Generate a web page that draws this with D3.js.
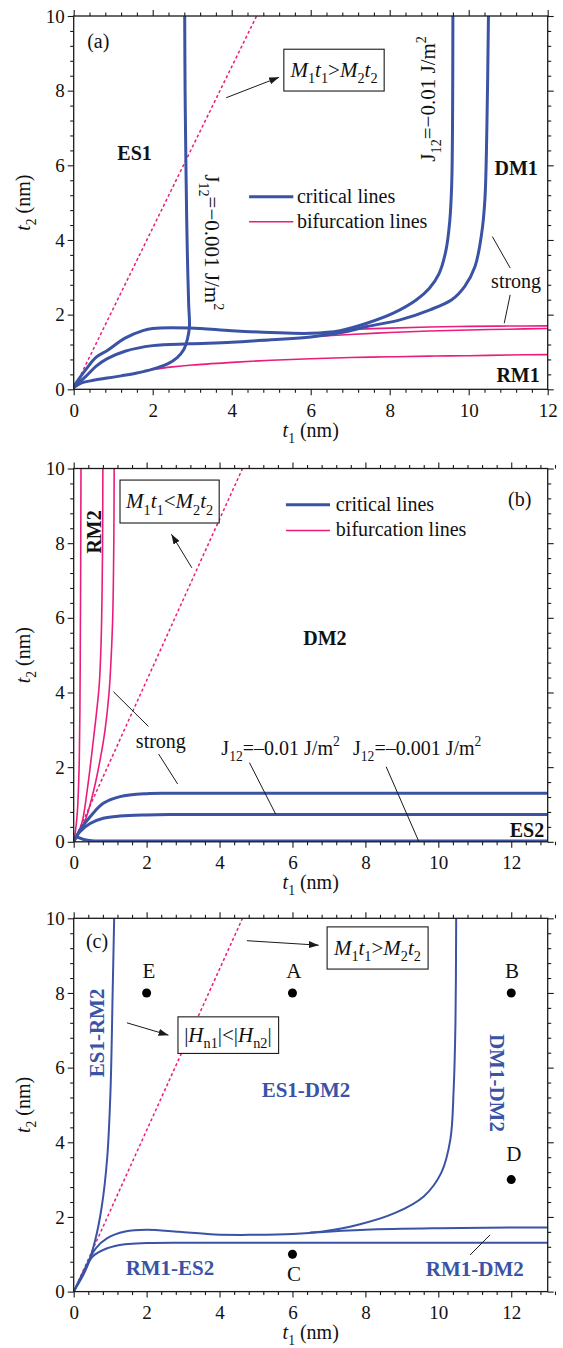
<!DOCTYPE html>
<html>
<head>
<meta charset="utf-8">
<script src="https://cdn.jsdelivr.net/npm/d3@7"></script>
<style>
  body { margin: 0; background: #fff; }
  svg { display: block; font-family: "Liberation Serif", "Times New Roman", serif; }
  text { font-family: "Liberation Serif", "Times New Roman", serif; fill: #111; }
</style>
</head>
<body>
<script>
// ---------------- data (t1, t2 in nm) ----------------
const xTicks = [0, 2, 4, 6, 8, 10, 12];
const yTicks = [0, 2, 4, 6, 8, 10];
const minorStep = 0.4;
const xMaxA = 12, xMaxBC = 13, yMax = 10;

// M1 t1 = M2 t2 boundary
const momentLine = [[0, 0], [4.63, 10]];

// (a) critical lines
const aCritLow = [[0,0.05],[0.2,0.17],[0.5,0.24],[0.85,0.3],[1.2,0.36],[1.57,0.43],[2,0.54],[2.39,0.69],[2.62,0.85],[2.78,1.05],[2.88,1.35],[2.93,1.68],[2.91,2.3],[2.88,3.5],[2.86,4.6],[2.84,6.1],[2.82,8],[2.81,10]];
const aCritMid = [[0,0.07],[0.3,0.34],[0.57,0.62],[0.85,0.82],[1.3,1.02],[2,1.17],[2.94,1.22],[4,1.26],[5,1.33],[6,1.40],[6.92,1.55],[7.42,1.68],[8.26,1.86],[9.02,2.13],[9.57,2.4],[9.9,2.76],[10.16,3.29],[10.33,4.19],[10.41,5.08],[10.46,7],[10.5,10]];
const aCritUp = [[0,0.08],[0.3,0.52],[0.57,0.86],[0.85,1.04],[1.3,1.37],[1.75,1.57],[2,1.63],[2.94,1.64],[4,1.57],[5,1.52],[6,1.5],[6.74,1.57],[7.42,1.77],[8.09,2.04],[8.68,2.4],[9.0,2.7],[9.25,3.1],[9.42,3.7],[9.52,4.5],[9.57,5.5],[9.59,7],[9.6,10]];
// (a) bifurcation lines
const aBifLow = [[1.8,0.5],[2.5,0.6],[3,0.65],[4,0.72],[5,0.78],[6,0.82],[7,0.85],[8,0.87],[9,0.89],[10,0.9],[11,0.92],[12,0.93]];
const aBifMid = [[5.9,1.4],[7,1.47],[8,1.52],[9,1.56],[10,1.59],[11,1.61],[12,1.63]];
const aBifUp = [[7,1.6],[8,1.64],[9,1.67],[10,1.685],[11,1.695],[12,1.7]];

// (b) critical lines
const bCritUp = [[0,0],[0.17,0.31],[0.45,0.67],[0.81,1.03],[1.27,1.21],[2,1.29],[2.64,1.3],[4,1.3],[8,1.3],[13,1.3]];
const bCritMid = [[0,0],[0.17,0.27],[0.45,0.49],[0.81,0.63],[1.27,0.69],[2,0.72],[2.64,0.73],[6,0.73],[13,0.73]];
const bCritLow = [[0,0.05],[0.08,0.12],[0.25,0.07],[0.5,0.03],[1,0.02],[6,0.02],[13,0.02]];
// (b) bifurcation lines
const bBif1 = [[0,0],[0.05,0.3],[0.1,0.8],[0.13,1.4],[0.155,2.3],[0.17,3.5],[0.18,5],[0.19,7],[0.2,10]];
const bBif2 = [[0,0],[0.22,0.49],[0.37,1.38],[0.54,2.73],[0.63,3.5],[0.7,4.2],[0.75,5.3],[0.78,6.8],[0.795,8.5],[0.8,10]];
const bBif3 = [[0,0],[0.2,0.33],[0.35,0.67],[0.55,1.38],[0.74,2.28],[0.86,3],[0.97,4],[1.03,5],[1.07,6],[1.1,8],[1.11,10]];

// (c) phase boundaries
const cCritLeft = [[0,0],[0.33,0.58],[0.57,1.3],[0.77,2.28],[0.92,3.6],[1.01,5.4],[1.07,8.1],[1.11,10]];
const cCritBig = [[0,0],[0.3,0.6],[0.6,1.15],[0.92,1.43],[1.41,1.61],[2,1.66],[2.89,1.6],[3.87,1.53],[4.86,1.52],[6,1.54],[6.83,1.61],[7.8,1.79],[8.8,2.1],[9.6,2.55],[10.08,3.18],[10.33,4.07],[10.42,5.4],[10.47,7.2],[10.49,10]];
const cCritFlatUp = [[6.5,1.58],[8,1.66],[10,1.7],[13,1.72]];
const cCritFlatLow = [[0,0],[0.3,0.55],[0.52,0.94],[0.92,1.16],[1.41,1.27],[2,1.3],[3,1.31],[8,1.31],[13,1.31]];
// (c) sample states
const cStates = [
  { name: "E", t1: 2,  t2: 8 },
  { name: "A", t1: 6,  t2: 8 },
  { name: "B", t1: 12, t2: 8 },
  { name: "D", t1: 12, t2: 3 },
  { name: "C", t1: 6,  t2: 1 }
];

// ---------------- styling & layout ----------------
const BLUE = "#3a53a4", PINK = "#ea1c7c", INK = "#1a1a1a";
const FONT = "Liberation Serif, Times New Roman, serif";
const L = 73.7, W = 474, H = 373.3;
const tops = [16, 468.5, 918.3];

const svg = d3.select("body").append("svg").attr("width", 563).attr("height", 1348);
const defs = svg.append("defs");
defs.append("marker").attr("id", "arrow")
  .attr("viewBox", "0 0 10 7").attr("refX", 10).attr("refY", 3.5)
  .attr("markerWidth", 10).attr("markerHeight", 7)
  .attr("markerUnits", "userSpaceOnUse").attr("orient", "auto")
  .append("path").attr("d", "M0,0 L10,3.5 L0,7 Z").attr("fill", INK);

// text with italic pieces and sub/superscripts
function rich(textSel, parts, size) {
  let off = 0;
  textSel.attr("font-family", FONT);
  parts.forEach(p => {
    const target = p.sub ? size * 0.3 : p.sup ? -size * 0.42 : 0;
    const ts = textSel.append("tspan").text(p.t).attr("dy", target - off);
    off = target;
    if (p.sub || p.sup) ts.attr("font-size", size * 0.68);
    if (p.i) ts.attr("font-style", "italic");
  });
}
const plain = s => [{ t: s }];
const jLabel = v => [{ t: "J" }, { t: "12", sub: true }, { t: "=" + v + " J/m" }, { t: "2", sup: true }];
const mLabel = rel => [{ t: "M", i: true }, { t: "1", sub: true }, { t: "t", i: true }, { t: "1", sub: true },
  { t: rel }, { t: "M", i: true }, { t: "2", sub: true }, { t: "t", i: true }, { t: "2", sub: true }];
const hLabel = [{ t: "|" }, { t: "H", i: true }, { t: "n1", sub: true }, { t: "|<|" }, { t: "H", i: true }, { t: "n2", sub: true }, { t: "|" }];

function drawPanel(cfg, idx) {
  const g = svg.append("g").attr("transform", `translate(${L},${tops[idx]})`);
  const x = d3.scaleLinear().domain([0, cfg.xMax]).range([0, W]);
  const y = d3.scaleLinear().domain([0, yMax]).range([H, 0]);

  const clipId = "clip" + idx;
  defs.append("clipPath").attr("id", clipId).append("rect").attr("width", W).attr("height", H);
  const plot = g.append("g").attr("clip-path", `url(#${clipId})`);

  const line = d3.line().x(d => x(d[0])).y(d => y(d[1])).curve(d3.curveCatmullRom.alpha(0.5));
  cfg.series.forEach(s => {
    plot.append("path").datum(s.data).attr("d", line)
      .attr("fill", "none").attr("stroke", s.color).attr("stroke-width", s.width)
      .attr("stroke-dasharray", s.dash || null)
      .attr("stroke-linejoin", "round").attr("stroke-linecap", s.dash ? "butt" : "round");
  });

  // axes: major + minor ticks on all four sides, pointing outward
  const minorOf = max => d3.range(0, Math.round(max / minorStep) + 1).filter(i => i % 5 !== 0).map(i => i * minorStep);
  const xMinor = minorOf(cfg.xMax), yMinor = minorOf(yMax);
  const styleAxis = sel => {
    sel.attr("font-size", 19).attr("font-family", FONT).attr("color", INK);
    sel.select(".domain").remove();
    sel.selectAll(".tick line").attr("stroke-width", 1.1);
  };
  const bottom = g.append("g").attr("transform", `translate(0,${H})`);
  bottom.append("g").call(d3.axisBottom(x).tickValues(xTicks).tickSize(6).tickPadding(8).tickFormat(d3.format("d"))).call(styleAxis);
  bottom.append("g").call(d3.axisBottom(x).tickValues(xMinor).tickSize(3.5).tickFormat("")).call(styleAxis);
  g.append("g").call(d3.axisTop(x).tickValues(xTicks).tickSize(6).tickFormat("")).call(styleAxis);
  g.append("g").call(d3.axisTop(x).tickValues(xMinor).tickSize(3.5).tickFormat("")).call(styleAxis);
  g.append("g").call(d3.axisLeft(y).tickValues(yTicks).tickSize(6).tickPadding(3).tickFormat(d3.format("d"))).call(styleAxis);
  g.append("g").call(d3.axisLeft(y).tickValues(yMinor).tickSize(3.5).tickFormat("")).call(styleAxis);
  const right = g.append("g").attr("transform", `translate(${W},0)`);
  right.append("g").call(d3.axisRight(y).tickValues(yTicks).tickSize(6).tickFormat("")).call(styleAxis);
  right.append("g").call(d3.axisRight(y).tickValues(yMinor).tickSize(3.5).tickFormat("")).call(styleAxis);
  g.append("rect").attr("width", W).attr("height", H).attr("fill", "none").attr("stroke", INK).attr("stroke-width", 1.3);

  // axis titles
  rich(g.append("text").attr("x", W / 2).attr("y", H + 47.5).attr("text-anchor", "middle").attr("font-size", 20),
    [{ t: "t", i: true }, { t: "1", sub: true }, { t: " (nm)" }], 20);
  rich(g.append("text").attr("transform", `translate(-44,${H / 2}) rotate(-90)`).attr("text-anchor", "middle").attr("font-size", 20),
    [{ t: "t", i: true }, { t: "2", sub: true }, { t: " (nm)" }], 20);

  // annotations
  const ann = g.append("g");
  (cfg.boxes || []).forEach(b => {
    ann.append("rect").attr("x", x(b.x0)).attr("y", y(b.y0))
      .attr("width", x(b.x1) - x(b.x0)).attr("height", y(b.y1) - y(b.y0))
      .attr("fill", "#fff").attr("stroke", INK).attr("stroke-width", 1.1);
  });
  (cfg.lines || []).forEach(l => {
    ann.append("line").attr("x1", x(l.from[0])).attr("y1", y(l.from[1]))
      .attr("x2", x(l.to[0])).attr("y2", y(l.to[1]))
      .attr("stroke", l.color || INK).attr("stroke-width", l.width || 1)
      .attr("marker-end", l.arrow ? "url(#arrow)" : null);
  });
  (cfg.texts || []).forEach(t => {
    const el = ann.append("text")
      .attr("transform", `translate(${x(t.x)},${y(t.y)})` + (t.rotate ? ` rotate(${t.rotate})` : ""))
      .attr("text-anchor", t.anchor || "middle").attr("font-size", t.size)
      .attr("font-weight", t.bold ? "bold" : null);
    if (t.color) el.style("fill", t.color);
    rich(el, t.parts, t.size);
  });
  (cfg.dots || []).forEach(d => {
    ann.append("circle").attr("cx", x(d.t1)).attr("cy", y(d.t2)).attr("r", 4.5).attr("fill", "#000");
  });
}

// ---------------- panel (a) ----------------
drawPanel({
  xMax: xMaxA,
  series: [
    { data: momentLine, color: PINK, width: 1.5, dash: "3,2.5" },
    { data: aBifLow, color: PINK, width: 1.6 },
    { data: aBifMid, color: PINK, width: 1.6 },
    { data: aBifUp, color: PINK, width: 1.6 },
    { data: aCritLow, color: BLUE, width: 3 },
    { data: aCritMid, color: BLUE, width: 3 },
    { data: aCritUp, color: BLUE, width: 3 }
  ],
  boxes: [{ x0: 5.32, y0: 9.11, x1: 7.86, y1: 7.99 }],
  lines: [
    { from: [3.86, 7.81], to: [5.2, 8.36], arrow: true },
    { from: [10.6, 4.09], to: [11.05, 3.25] },
    { from: [11.05, 2.53], to: [10.9, 1.77] },
    { from: [4.44, 5.16], to: [5.56, 5.16], color: BLUE, width: 3 },
    { from: [4.44, 4.49], to: [5.56, 4.49], color: PINK, width: 1.5 }
  ],
  texts: [
    { x: 0.34, y: 9.14, anchor: "start", size: 20, parts: plain("(a)") },
    { x: 1.54, y: 6.14, size: 20, bold: true, parts: plain("ES1") },
    { x: 11.2, y: 5.74, size: 20, bold: true, parts: plain("DM1") },
    { x: 11.25, y: 0.2, size: 20, bold: true, parts: plain("RM1") },
    { x: 11.2, y: 2.72, size: 20, parts: plain("strong") },
    { x: 6.59, y: 8.37, size: 21, parts: mLabel(">") },
    { x: 9.15, y: 7.78, size: 21, rotate: -90, parts: jLabel("\u22120.01") },
    { x: 3.32, y: 3.94, size: 21, rotate: 90, parts: jLabel("\u22120.001") },
    { x: 5.65, y: 4.99, anchor: "start", size: 20, parts: plain("critical lines") },
    { x: 5.65, y: 4.32, anchor: "start", size: 20, parts: plain("bifurcation lines") }
  ]
}, 0);

// ---------------- panel (b) ----------------
drawPanel({
  xMax: xMaxBC,
  series: [
    { data: momentLine, color: PINK, width: 1.5, dash: "3,2.5" },
    { data: bBif1, color: PINK, width: 1.6 },
    { data: bBif2, color: PINK, width: 1.6 },
    { data: bBif3, color: PINK, width: 1.6 },
    { data: bCritLow, color: BLUE, width: 3 },
    { data: bCritMid, color: BLUE, width: 3 },
    { data: bCritUp, color: BLUE, width: 3 }
  ],
  boxes: [{ x0: 1.27, y0: 9.69, x1: 3.99, y1: 8.54 }],
  lines: [
    { from: [3.24, 7.34], to: [2.68, 8.24], arrow: true },
    { from: [1.09, 4.02], to: [2.05, 3.09] },
    { from: [2.33, 2.35], to: [2.85, 1.55] },
    { from: [4.82, 2.12], to: [5.54, 0.74] },
    { from: [8.57, 2.01], to: [9.46, 0.02] },
    { from: [5.82, 9.03], to: [7.03, 9.03], color: BLUE, width: 3 },
    { from: [5.82, 8.34], to: [7.03, 8.34], color: PINK, width: 1.5 }
  ],
  texts: [
    { x: 12.23, y: 9.0, size: 20, parts: plain("(b)") },
    { x: 2.63, y: 8.93, size: 21, parts: mLabel("<") },
    { x: 0.74, y: 8.3, size: 20, bold: true, rotate: -90, parts: plain("RM2") },
    { x: 6.89, y: 5.28, size: 20, bold: true, parts: plain("DM2") },
    { x: 12.43, y: 0.13, size: 20, bold: true, parts: plain("ES2") },
    { x: 2.39, y: 2.51, size: 20, parts: plain("strong") },
    { x: 4.05, y: 2.33, anchor: "start", size: 20, parts: jLabel("\u20130.01") },
    { x: 7.66, y: 2.33, anchor: "start", size: 20, parts: jLabel("\u20130.001") },
    { x: 7.19, y: 8.87, anchor: "start", size: 20, parts: plain("critical lines") },
    { x: 7.19, y: 8.18, anchor: "start", size: 20, parts: plain("bifurcation lines") }
  ]
}, 1);

// ---------------- panel (c) ----------------
drawPanel({
  xMax: xMaxBC,
  series: [
    { data: momentLine, color: PINK, width: 1.5, dash: "3,2.5" },
    { data: cCritLeft, color: BLUE, width: 2 },
    { data: cCritBig, color: BLUE, width: 2 },
    { data: cCritFlatUp, color: BLUE, width: 2 },
    { data: cCritFlatLow, color: BLUE, width: 2 }
  ],
  boxes: [
    { x0: 6.95, y0: 9.77, x1: 9.72, y1: 8.64 },
    { x0: 2.86, y0: 7.36, x1: 5.62, y1: 6.38 }
  ],
  lines: [
    { from: [4.75, 9.4], to: [6.72, 9.28], arrow: true },
    { from: [1.46, 7.2], to: [2.6, 6.87], arrow: true },
    { from: [10.87, 0.98], to: [11.42, 1.52] }
  ],
  texts: [
    { x: 0.64, y: 9.2, size: 20, parts: plain("(c)") },
    { x: 8.33, y: 9.02, size: 21, parts: mLabel(">") },
    { x: 4.23, y: 6.69, size: 21, parts: hLabel },
    { x: 2.06, y: 8.4, size: 21, parts: plain("E") },
    { x: 6.04, y: 8.4, size: 21, parts: plain("A") },
    { x: 12.02, y: 8.4, size: 21, parts: plain("B") },
    { x: 12.07, y: 3.51, size: 21, parts: plain("D") },
    { x: 6.04, y: 0.29, size: 21, parts: plain("C") },
    { x: 0.83, y: 6.93, size: 21, bold: true, rotate: -90, color: BLUE, parts: plain("ES1-RM2") },
    { x: 6.37, y: 5.21, size: 21, bold: true, color: BLUE, parts: plain("ES1-DM2") },
    { x: 11.42, y: 5.59, size: 21, bold: true, rotate: 90, color: BLUE, parts: plain("DM1-DM2") },
    { x: 2.64, y: 0.45, size: 21, bold: true, color: BLUE, parts: plain("RM1-ES2") },
    { x: 11.0, y: 0.42, size: 21, bold: true, color: BLUE, parts: plain("RM1-DM2") }
  ],
  dots: cStates
}, 2);
</script>
</body>
</html>
